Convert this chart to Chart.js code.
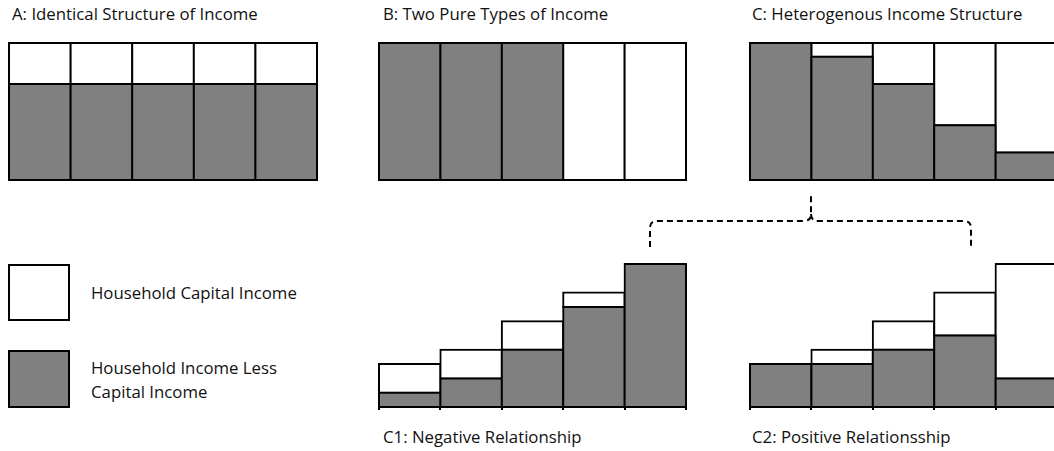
<!DOCTYPE html>
<html>
<head>
<meta charset="utf-8">
<script src="https://cdn.jsdelivr.net/npm/chart.js@4/dist/chart.umd.min.js"></script>
<style>
  html, body { margin: 0; padding: 0; background: #fff; }
  body { width: 1054px; height: 451px; position: relative; overflow: hidden; font-family: "Open Sans", Lato, sans-serif; color: #111; }
  .panel { position: absolute; }
  .label { position: absolute; font-size: 16.8px; line-height: 20px; white-space: nowrap; }
  .key { position: absolute; box-sizing: border-box; border: 2px solid #000; width: 62px; }
  svg { position: absolute; left: 0; top: 0; }
</style>
</head>
<body>

<div class="label" style="left:12px; top:4px;">A: Identical Structure of Income</div>
<div class="label" style="left:383px; top:4px;">B: Two Pure Types of Income</div>
<div class="label" style="left:752px; top:4px;">C: Heterogenous Income Structure</div>
<div class="label" style="left:383px; top:427px;">C1: Negative Relationship</div>
<div class="label" style="left:752px; top:427px;">C2: Positive Relationsship</div>

<div class="key" style="left:8px; top:264px; height:57px; background:#fff;"></div>
<div class="key" style="left:8px; top:350px; height:58px; background:#808080;"></div>
<div class="label" style="left:91px; top:283px;">Household Capital Income</div>
<div class="label" style="left:91px; top:356px; line-height:24px;">Household Income Less<br>Capital Income</div>

<svg width="1054" height="451">
  <path d="M650,247 L650,228 Q650,221 657,221 L804,221 Q811,221 811,214 L811,193"
        fill="none" stroke="#000" stroke-width="2" stroke-dasharray="6 4"/>
  <path d="M811,214 Q811,221 818,221 L964,221 Q971,221 971,228 L971,247"
        fill="none" stroke="#000" stroke-width="2" stroke-dasharray="6 4"/>
</svg>

<div class="panel" id="pA"><canvas id="chartA"></canvas></div>
<div class="panel" id="pB"><canvas id="chartB"></canvas></div>
<div class="panel" id="pC"><canvas id="chartC"></canvas></div>
<div class="panel" id="pC1"><canvas id="chartC1"></canvas></div>
<div class="panel" id="pC2"><canvas id="chartC2"></canvas></div>

<script>
const categories = ['1', '2', '3', '4', '5'];

// share of income that is not capital income / capital income, per household group
const aLess = [70, 70, 70, 70, 70];
const aCapital = [30, 30, 30, 30, 30];
const bLess = [100, 100, 100, null, null];
const bCapital = [null, null, null, 100, 100];
const cLess = [100, 90, 70, 40, 20];
const cCapital = [null, 10, 30, 60, 80];
const c1Less = [10, 20, 40, 70, 100];
const c1Capital = [20, 20, 20, 10, null];
const c2Less = [30, 30, 40, 50, 20];
const c2Capital = [null, 10, 20, 30, 80];

const seriesNames = ['Household Income Less Capital Income', 'Household Capital Income'];
const GRAY = '#808080';
const PAD = 4;
const TICK = 3;

const makeChart = (id, box, less, capital, withAxis) => {
    const holder = document.querySelector('#p' + id);
    const extra = withAxis ? TICK : 0;
    holder.style.left = (box.left - PAD) + 'px';
    holder.style.top = (box.top - PAD) + 'px';
    holder.style.width = (box.right - box.left + 2 * PAD) + 'px';
    holder.style.height = (box.bottom - box.top + 2 * PAD + extra) + 'px';

    const barStyle = {
        borderColor: '#000',
        borderWidth: 2,
        borderSkipped: false,
        inflateAmount: 1,
        barPercentage: 1,
        categoryPercentage: 1,
        clip: false,
    };

    new Chart(document.querySelector('#chart' + id), {
        type: 'bar',
        data: {
            labels: categories,
            datasets: [
                { label: seriesNames[0], data: less, backgroundColor: GRAY, ...barStyle },
                { label: seriesNames[1], data: capital, backgroundColor: '#fff', ...barStyle },
            ],
        },
        options: {
            responsive: true,
            maintainAspectRatio: false,
            animation: false,
            devicePixelRatio: 1,
            layout: { padding: PAD },
            plugins: { legend: { display: false }, tooltip: { enabled: false } },
            scales: {
                x: {
                    stacked: true,
                    display: withAxis,
                    grid: {
                        display: true,
                        offset: true,
                        drawOnChartArea: false,
                        drawTicks: true,
                        tickLength: TICK,
                        color: '#000',
                        lineWidth: 2,
                    },
                    border: { display: true, color: '#000', width: 2 },
                    ticks: { display: false },
                },
                y: { stacked: true, display: false, min: 0, max: 100 },
            },
        },
    });
};

makeChart('A', { left: 9, right: 317, top: 43, bottom: 180 }, aLess, aCapital, false);
makeChart('B', { left: 379, right: 686, top: 43, bottom: 180 }, bLess, bCapital, false);
makeChart('C', { left: 750, right: 1057, top: 43, bottom: 180 }, cLess, cCapital, false);
makeChart('C1', { left: 379, right: 686, top: 264, bottom: 407 }, c1Less, c1Capital, true);
makeChart('C2', { left: 750, right: 1057, top: 264, bottom: 407 }, c2Less, c2Capital, true);
</script>
</body>
</html>
